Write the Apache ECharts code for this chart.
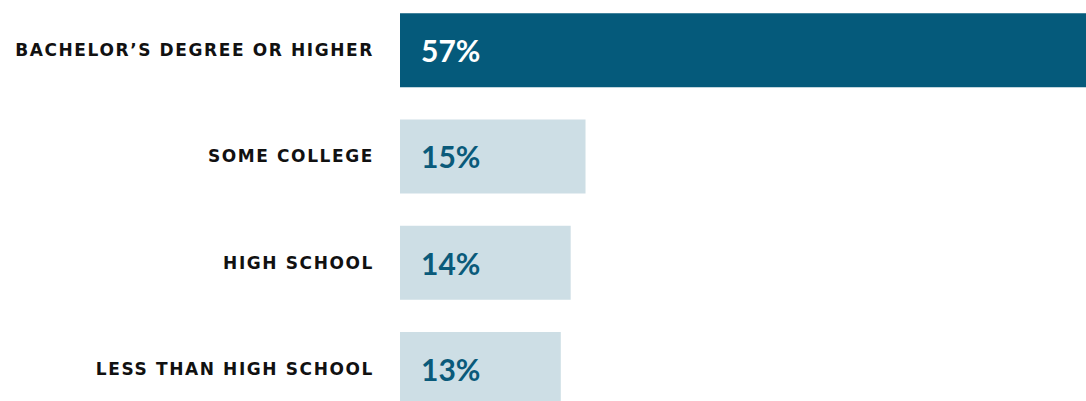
<!DOCTYPE html>
<html>
<head>
<meta charset="utf-8">
<script src="https://cdn.jsdelivr.net/npm/echarts@6/dist/echarts.min.js"></script>
<style>
html,body{margin:0;padding:0;background:#fff;overflow:hidden;width:1086px;height:401px;position:relative;}
#chart{width:1105px;height:425px;position:absolute;left:0;top:-3px;}
/* tracking for the category labels (right-aligned ones) */
#chart text[text-anchor="end"]{letter-spacing:1.6px;}
</style>
</head>
<body>
<div id="chart"></div>
<script>
var categories = ["BACHELOR\u2019S DEGREE OR HIGHER", "SOME COLLEGE", "HIGH SCHOOL", "LESS THAN HIGH SCHOOL"];
var values = [57, 15, 13.8, 13];
var barColors = ["#055a7b", "#cddee5", "#cddee5", "#cddee5"];
var labelColors = ["#ffffff", "#0a5a7a", "#0a5a7a", "#0a5a7a"];

var chart = echarts.init(document.getElementById("chart"), null, { renderer: "svg" });

var seriesData = values.map(function (v, i) {
  return {
    value: v,
    itemStyle: { color: barColors[i] },
    label: { color: labelColors[i] }
  };
});

chart.setOption({
  animation: false,
  grid: { left: 400, right: 0, top: 0, bottom: 0, containLabel: false },
  xAxis: {
    type: "value", min: 0, max: 57,
    show: false
  },
  yAxis: {
    type: "category", data: categories, inverse: true,
    axisLine: { show: false }, axisTick: { show: false },
    axisLabel: {
      margin: 26, color: "#111111",
      fontFamily: "DejaVu Sans", fontWeight: "bold", fontSize: 17
    }
  },
  series: [{
    type: "bar",
    data: seriesData,
    barWidth: 74,
    label: {
      show: true, position: "insideLeft", distance: 21,
      fontFamily: "Lato", fontWeight: "bold", fontSize: 30,
      formatter: function (p) { return Math.round(p.value) + "%"; }
    }
  }]
});
</script>
</body>
</html>
